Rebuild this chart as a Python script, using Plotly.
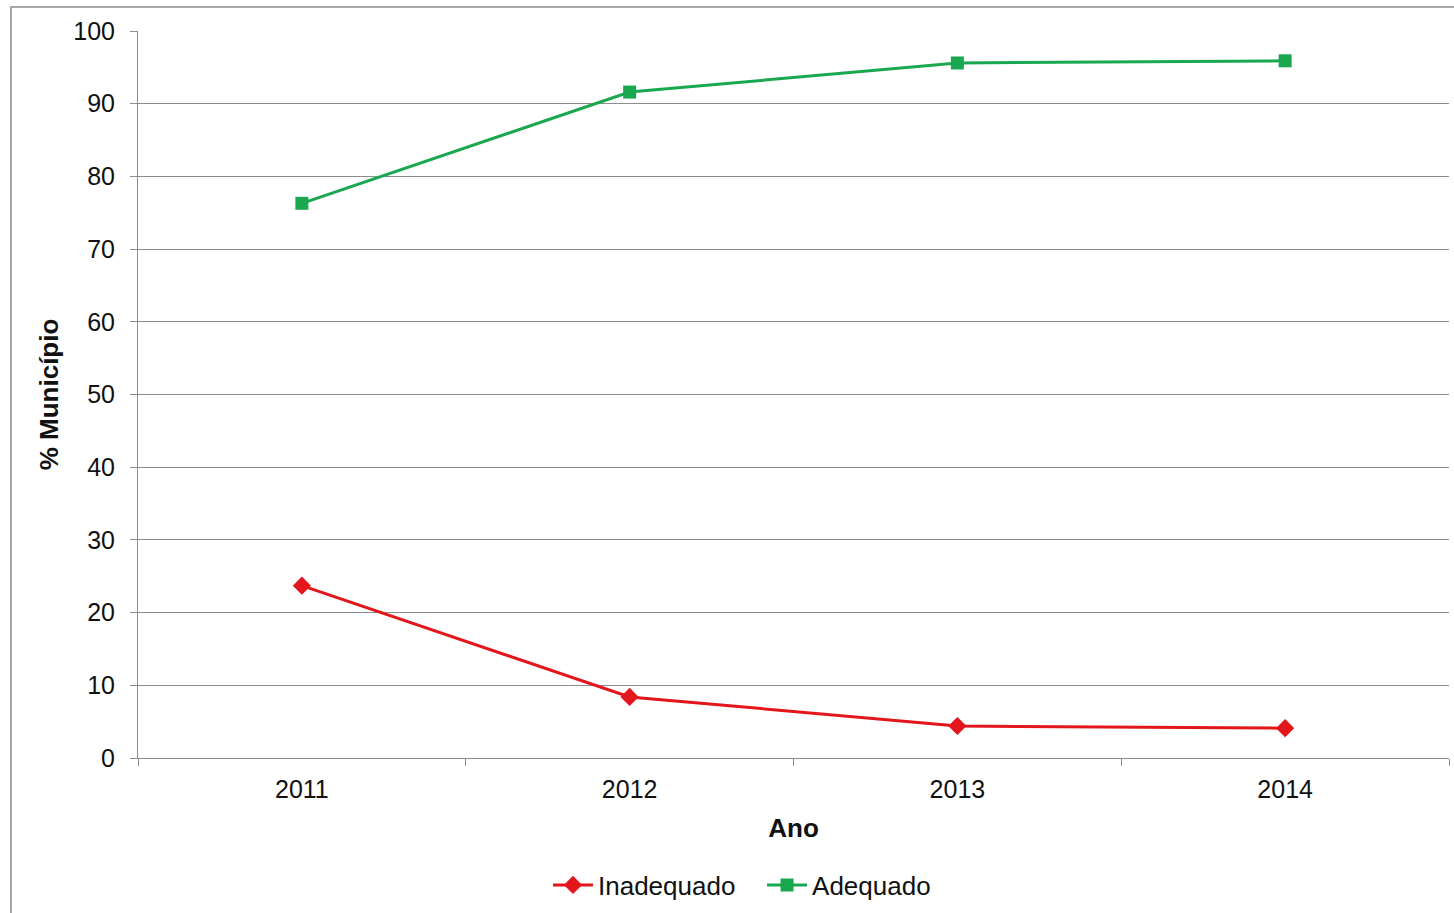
import plotly.graph_objects as go

anos = ["2011", "2012", "2013", "2014"]
inadequado = [23.7, 8.4, 4.4, 4.1]
adequado = [76.3, 91.6, 95.6, 95.9]

W, H = 1454, 913
L, R, T, B = 138, 5, 31, 155
pw, ph = W - L - R, H - T - B

fig = go.Figure()
fig.add_trace(go.Scatter(
    x=anos, y=inadequado, name="Inadequado\u00a0\u00a0\u00a0", mode="lines+markers",
    line=dict(color="#E3161C", width=3),
    marker=dict(symbol="diamond", size=14, color="#E3161C"),
))
fig.add_trace(go.Scatter(
    x=anos, y=adequado, name="Adequado", mode="lines+markers",
    line=dict(color="#19A84F", width=3),
    marker=dict(symbol="square", size=13, color="#19A84F"),
))

font = "Liberation Sans, Arial, sans-serif"
fig.update_layout(
    width=W, height=H,
    margin=dict(l=L, r=R, t=T, b=B, autoexpand=False),
    paper_bgcolor="white", plot_bgcolor="white",
    font=dict(family=font, size=26, color="#111111"),
    showlegend=True,
    legend=dict(orientation="h", x=(742 - L) / pw, xanchor="center",
                y=(758 - 885) / ph, yanchor="middle", font=dict(size=26),
                itemwidth=40, bgcolor="rgba(0,0,0,0)"),
    xaxis=dict(
        type="category", range=[-0.5, 3.5],
        showline=True, linecolor="#8C8C8C", linewidth=1,
        ticks="outside", tickson="boundaries", ticklen=7, tickcolor="#8C8C8C",
        showgrid=False, tickfont=dict(size=25), ticklabelstandoff=9,
        title=dict(text="<b>Ano</b>", font=dict(size=26), standoff=16),
    ),
    yaxis=dict(
        range=[0, 100], dtick=10, tick0=0,
        showline=True, linecolor="#8C8C8C", linewidth=1,
        ticks="outside", ticklen=7, tickcolor="#8C8C8C",
        showgrid=True, gridcolor="#8C8C8C", gridwidth=1,
        zeroline=False, tickfont=dict(size=25), ticklabelstandoff=10,
        title=dict(text="<b>% Município</b>", font=dict(size=26), standoff=7),
    ),
    shapes=[dict(
        type="rect", xref="paper", yref="paper",
        x0=(11 - L) / pw, x1=(1470 - L) / pw,
        y0=(758 - 930) / ph, y1=(758 - 7) / ph,
        line=dict(color="#8C8C8C", width=1.5), fillcolor="rgba(0,0,0,0)", layer="below",
    )],
)
fig.write_html("out.html")
